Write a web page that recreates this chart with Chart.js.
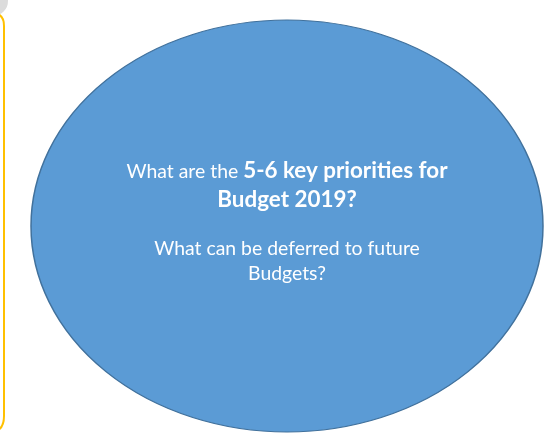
<!DOCTYPE html>
<html>
<head>
<meta charset="utf-8">
<script src="https://cdn.jsdelivr.net/npm/chart.js@4/dist/chart.umd.min.js"></script>
<style>
  html, body { margin: 0; padding: 0; background: #fff; }
  #wrap { width: 557px; height: 434px; }
</style>
</head>
<body>
<div id="wrap"><canvas id="ovalChart" width="557" height="434"></canvas></div>
<script>
// =====================================================
// DATA
// =====================================================
const labels = ['Budget 2019'];
const values = [1];
const questionLines = [
    [{ t: 'What are the ', b: false }, { t: '5-6 key priorities for', b: true }],
    [{ t: 'Budget 2019?', b: true }],
    [],
    [{ t: 'What can be deferred to future', b: false }],
    [{ t: 'Budgets?', b: false }]
];

// stretch factor that turns the round pie into the oval
const STRETCH_X = 256 / 206;
const FONT = 'Lato, "Open Sans", sans-serif';
const REG = '19.4px ';
const BOLD = 'bold 22.4px ';

// =====================================================
// PLUGINS
// =====================================================
const slideDecor = {
    id: 'slideDecor',
    beforeDraw(chart) {
        const ctx = chart.ctx;
        ctx.save();
        // grey corner blob
        ctx.fillStyle = '#dcdcdc';
        ctx.beginPath();
        ctx.arc(-7, 1, 15, 0, Math.PI * 2);
        ctx.fill();
        // yellow side panel edge
        ctx.strokeStyle = '#ffc000';
        ctx.lineWidth = 2;
        ctx.beginPath();
        ctx.moveTo(-8, 13);
        ctx.quadraticCurveTo(4, 13, 4, 26);
        ctx.lineTo(4, 416);
        ctx.quadraticCurveTo(4, 431, -8, 432);
        ctx.stroke();
        ctx.restore();
    }
};

const ovalStretch = {
    id: 'ovalStretch',
    beforeDatasetsDraw(chart) {
        const arc = chart.getDatasetMeta(0).data[0];
        const ctx = chart.ctx;
        ctx.save();
        ctx.translate(arc.x, arc.y);
        ctx.scale(STRETCH_X, 1);
        ctx.translate(-arc.x, -arc.y);
    },
    afterDatasetsDraw(chart) {
        // outline without the slice's radial seam
        const arc = chart.getDatasetMeta(0).data[0];
        const ctx = chart.ctx;
        ctx.strokeStyle = '#41719c';
        ctx.lineWidth = 1.2;
        ctx.beginPath();
        ctx.arc(arc.x, arc.y, arc.outerRadius, 0, Math.PI * 2);
        ctx.stroke();
        ctx.restore();
    }
};

const centerText = {
    id: 'centerText',
    afterDraw(chart) {
        const ctx = chart.ctx;
        const arc = chart.getDatasetMeta(0).data[0];
        const cx = arc.x;
        const lineY = [178, 207, 231, 255, 280];
        ctx.save();
        ctx.fillStyle = '#ffffff';
        ctx.textBaseline = 'alphabetic';
        ctx.textAlign = 'left';
        questionLines.forEach((parts, i) => {
            if (!parts.length) return;
            let total = 0;
            parts.forEach(p => {
                ctx.font = (p.b ? BOLD : REG) + FONT;
                p.w = ctx.measureText(p.t).width;
                total += p.w;
            });
            let x = cx - total / 2;
            parts.forEach(p => {
                ctx.font = (p.b ? BOLD : REG) + FONT;
                ctx.fillText(p.t, x, lineY[i]);
                x += p.w;
            });
        });
        ctx.restore();
    }
};

// =====================================================
// CHART
// =====================================================
new Chart(document.getElementById('ovalChart'), {
    type: 'pie',
    data: {
        labels: labels,
        datasets: [{
            data: values,
            backgroundColor: '#5b9bd5',
            borderWidth: 0
        }]
    },
    options: {
        responsive: false,
        animation: false,
        layout: { padding: { left: 81, right: 64, top: 20, bottom: 2 } },
        plugins: { legend: { display: false }, tooltip: { enabled: false } }
    },
    plugins: [slideDecor, ovalStretch, centerText]
});
</script>
</body>
</html>
